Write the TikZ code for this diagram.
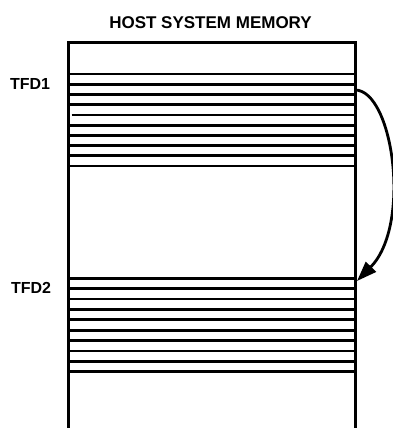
\documentclass[tikz,border=0pt]{standalone}
\usepackage{fontspec}
\setmainfont{Liberation Sans}
\usetikzlibrary{arrows.meta}
\tikzset{
  lbl/.style={font=\fontsize{16}{18}\selectfont\bfseries, inner sep=0pt},
  ttl/.style={font=\fontsize{17}{19}\selectfont\bfseries, inner sep=0pt},
  wall/.style={line width=3pt},
  slot/.style={line width=2.7pt},
  link/.style={line width=2.8pt, -{Triangle[length=20pt,width=14pt]}}
}
\begin{document}
\begin{tikzpicture}[x=1pt,y=-1pt]
\useasboundingbox (0,0) rectangle (393,428);
\node[ttl] (title) at (210.5,22.5) {HOST SYSTEM MEMORY};
\node[lbl] (tfd1) at (30,84) {TFD1};
\node[lbl] (tfd2) at (31,288) {TFD2};
% memory column (open at the bottom)
\draw[wall] (68,440) -- (68,43) -- (355,43) -- (355,440);
% TFD1 entries
\foreach \y in {74,84.2,94.4,104.6,125.3,135.4,145.6,155.8,166}
  \draw[slot] (68,\y) -- (355,\y);
\draw[slot] (71.7,115) -- (355,115);
% TFD2 entries
\foreach \i in {0,...,9}
  \draw[slot] (68,278.3+\i*10.38) -- (355,278.3+\i*10.38);
% link
\coordinate (a1) at (355,90);
\coordinate (a2) at (357,281);
\draw[link] (a1) .. controls (393,90) and (412,225) .. (a2);
\end{tikzpicture}
\end{document}
